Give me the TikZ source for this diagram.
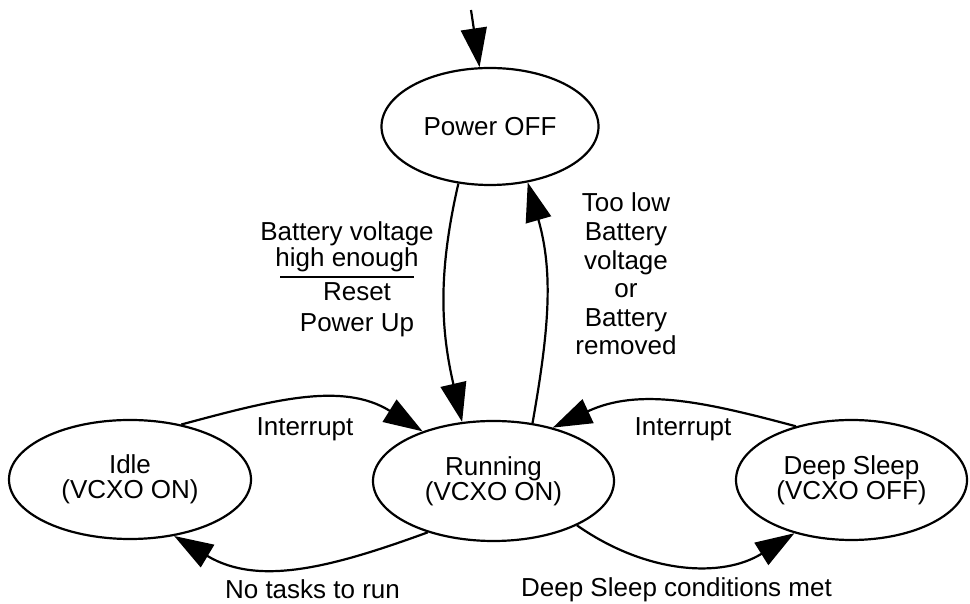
\documentclass[tikz,border=0pt]{standalone}
\usepackage{fontspec}
\setmainfont{Liberation Sans}
\usetikzlibrary{shapes.geometric,arrows.meta}
\begin{document}
\begin{tikzpicture}[x=1pt,y=1pt,
  state/.style={draw, ellipse, line width=2.2pt, inner sep=0pt, align=center,
    font=\fontsize{26}{25}\selectfont},
  conn/.style={draw, line width=2.2pt, -{Triangle[length=39pt,width=26pt]}},
  lbl/.style={inner sep=0pt, align=center, font=\fontsize{26}{26}\selectfont},
  rulestyle/.style={line width=2pt}]
\useasboundingbox (0,0) rectangle (970,604);
% states
\node[state, minimum width=217, minimum height=117] (pow) at (490,477.5) {Power OFF};
\node[state, minimum width=242, minimum height=119] (idle) at (130,124.5) {Idle\\(VCXO ON)};
\node[state, minimum width=241, minimum height=120] (run) at (493.5,123) {Running\\(VCXO ON)};
\node[state, minimum width=231, minimum height=120] (ds) at (851.5,124) {Deep Sleep\\(VCXO OFF)};
% entry
\coordinate (entry) at (471,594);
\draw[conn] (entry) -- (pow.100);
% transitions
\draw[conn] (pow.241) to[out=257,in=103] (run.118);
\draw[conn] (run.56) to[out=80,in=286] (pow.304);
\draw[conn] (idle.47) to[out=15,in=148] (run.145);
\draw[conn] (run.218) to[out=200,in=329] (idle.308);
\draw[conn] (ds.136) to[out=165,in=25] (run.42);
\draw[conn] (run.332) to[out=325,in=212] (ds.223);
% labels
\node[lbl] (lblA) at (347,357.6) {Battery voltage\\high enough};
\node[lbl, font=\fontsize{26}{31}\selectfont] (lblB) at (357,294) {Reset\\Power Up};
\coordinate (ruleL) at (280,327);
\coordinate (ruleR) at (414,327);
\draw[rulestyle] (ruleL) -- (ruleR);
\node[lbl, font=\fontsize{26}{28.6}\selectfont] (lblC) at (626,329.8)
  {Too low\\Battery\\voltage\\or\\Battery\\removed};
\node[lbl, anchor=base] (int1) at (305,168) {Interrupt};
\node[lbl, anchor=base] (int2) at (683,168) {Interrupt};
\node[lbl, anchor=base] (notask) at (312.5,5) {No tasks to run};
\node[lbl, anchor=base] (dscond) at (676.5,7) {Deep Sleep conditions met};
\end{tikzpicture}
\end{document}
